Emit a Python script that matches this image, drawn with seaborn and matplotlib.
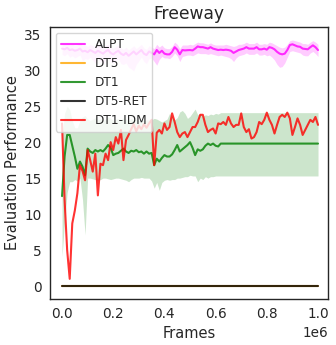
import numpy as np
import pandas as pd
import matplotlib
matplotlib.use("Agg")
import matplotlib.pyplot as plt
import seaborn as sns

# ---------------- data ----------------
frames = [i * 10000 for i in range(101)]

alpt = [33.0, 32.9, 33.1, 32.8, 32.9, 32.7, 32.8, 33.0, 32.6, 32.7,
        32.5, 32.8, 32.6, 32.4, 32.7, 32.5, 32.3, 32.6, 32.8, 32.4,
        32.2, 32.5, 32.7, 32.3, 32.1, 32.4, 32.0, 32.3, 32.6, 32.2,
        32.5, 32.8, 32.3, 32.1, 32.6, 32.4, 32.2, 32.8, 32.4, 32.7,
        32.3, 32.2, 32.2, 32.55, 33.2, 32.85, 32.2, 32.8, 32.75, 32.78,
        32.8, 32.75, 33.0, 33.3, 33.2, 33.2, 33.1, 33.0, 33.2, 33.0,
        32.9, 32.8, 32.85, 32.8, 32.85, 32.8, 32.7, 32.4, 32.6, 32.8,
        32.9, 33.0, 33.2, 33.0, 33.0, 33.0, 33.2, 32.9, 32.9, 33.0,
        32.85, 33.2, 33.1, 32.9, 32.55, 32.3, 32.2, 32.3, 32.8, 33.5,
        33.6, 33.45, 33.3, 33.25, 33.0, 32.95, 32.9, 33.2, 33.45, 33.2,
        32.8]
alpt_low = [32.2, 32.0, 32.3, 31.8, 32.0, 31.7, 31.9, 32.1, 31.3, 31.6,
            31.5, 31.8, 31.4, 31.0, 31.7, 31.3, 30.8, 31.5, 31.8, 31.2,
            31.0, 31.4, 31.6, 30.9, 30.8, 31.0, 30.4, 30.2, 29.9, 30.8,
            31.3, 31.8, 31.2, 30.9, 31.6, 31.7, 31.2, 30.7, 31.5, 31.9,
            31.7, 31.7, 31.6, 31.9, 32.4, 32.0, 31.2, 31.9, 32.0, 32.1,
            32.1, 32.0, 32.2, 32.4, 32.3, 32.3, 32.3, 32.2, 32.3, 32.2,
            32.1, 32.0, 32.1, 32.0, 31.9, 31.8, 31.6, 31.2, 31.7, 32.0,
            32.1, 32.2, 32.4, 32.2, 32.2, 32.2, 32.4, 32.1, 32.1, 32.2,
            32.0, 32.1, 31.8, 31.4, 30.8, 30.4, 30.5, 31.0, 31.8, 32.6,
            32.7, 32.6, 32.5, 32.4, 32.1, 32.0, 32.0, 32.4, 32.6, 32.3,
            31.9]
alpt_high = [33.7, 33.6, 33.8, 33.5, 33.6, 33.4, 33.5, 33.8, 33.4, 33.5,
             33.3, 33.6, 33.4, 33.2, 33.5, 33.3, 33.1, 33.4, 33.6, 33.2,
             33.0, 33.3, 33.5, 33.1, 32.9, 33.2, 32.8, 33.1, 33.4, 33.0,
             33.3, 33.6, 33.1, 32.9, 33.4, 33.2, 33.0, 33.6, 33.2, 33.5,
             33.1, 33.0, 33.0, 33.3, 33.9, 33.6, 33.0, 33.5, 33.5, 33.5,
             33.6, 33.5, 33.7, 33.9, 33.8, 33.8, 33.7, 33.6, 33.8, 33.6,
             33.5, 33.5, 33.5, 33.5, 33.6, 33.5, 33.4, 33.3, 33.4, 33.6,
             33.6, 33.7, 33.9, 33.7, 33.7, 33.7, 33.9, 33.6, 33.6, 33.7,
             33.6, 33.9, 33.8, 33.6, 33.4, 33.2, 33.1, 33.2, 33.6, 34.1,
             34.2, 34.1, 34.0, 33.9, 33.7, 33.7, 33.6, 33.9, 34.1, 33.9,
             33.6]

dt5 = [0.0] * 101
dt5_ret = [0.0] * 101

dt1 = [12.5, 18.0, 21.0, 21.0, 19.5, 18.0, 16.3, 17.3, 16.6, 15.4,
       19.1, 18.7, 18.5, 18.9, 18.7, 18.9, 18.7, 19.1, 19.6, 19.2,
       18.2, 18.4, 18.5, 18.8, 19.1, 18.7, 18.5, 18.8, 18.7, 18.9,
       18.6, 18.7, 18.4, 18.7, 18.4, 18.5, 16.8, 17.7, 17.3, 17.8,
       18.2, 18.0, 18.0, 18.3, 18.9, 19.6, 18.7, 19.0, 19.3, 19.6,
       20.0, 19.2, 18.2, 19.0, 18.8, 19.0, 19.5, 19.8, 19.6, 19.8,
       19.5, 19.4, 19.8] + [19.8] * 38
dt1_low = [4.1, 9.0, 13.0, 14.5, 14.5, 14.8, 14.6, 15.0, 12.0, 7.1,
           15.0, 15.0, 14.9, 14.8, 14.7, 14.8, 15.0, 15.0, 14.9, 14.8,
           14.9, 15.0, 15.0, 14.9, 14.8, 14.7, 14.5, 14.8, 15.0, 15.0,
           15.0, 15.1, 15.0, 15.0, 15.0, 14.6, 13.6, 14.4, 13.3, 14.4,
           14.7, 14.8, 14.7, 14.8, 14.8, 15.0, 15.0, 15.1, 15.2, 15.2,
           15.4, 15.3, 15.3, 14.5, 15.0, 14.8, 15.2, 15.0, 15.2, 15.2,
           15.3, 15.3, 15.3] + [15.3] * 38
dt1_high = [20.9, 24.0, 25.0, 24.5, 23.0, 22.0, 22.0, 23.0, 23.5, 23.7,
            23.2, 23.0, 23.2, 23.4, 23.1, 23.3, 23.0, 23.2, 23.5, 23.3,
            23.0, 23.2, 23.3, 23.1, 23.4, 23.2, 23.0, 23.3, 23.1, 23.2,
            23.0, 23.2, 23.0, 23.1, 23.1, 23.1, 23.3, 23.2, 23.0, 22.8,
            23.0, 23.2, 24.0, 23.6, 23.1, 23.4, 24.2, 24.4, 24.0, 23.3,
            23.6, 24.1, 24.6, 23.8, 24.0, 23.6, 23.8, 23.7, 23.9, 23.8,
            24.0, 23.9, 24.1] + [24.1] * 38

dt1_idm = [22.6, 12.0, 5.0, 1.0, 8.7, 10.5, 12.9, 16.8, 16.0, 14.7,
           18.9, 17.5, 15.9, 18.4, 12.6, 17.0, 16.8, 18.4, 17.5, 20.0,
           18.9, 20.7, 19.8, 21.7, 17.5, 20.3, 21.0, 21.8, 22.5, 21.5,
           22.3, 21.8, 22.5, 22.0, 22.6, 23.1, 16.8, 21.3, 21.7, 21.2,
           22.6, 21.7, 22.1, 24.0, 22.8, 21.4, 20.7, 21.2, 21.4, 20.7,
           21.4, 22.1, 22.1, 22.8, 23.8, 23.8, 22.4, 21.4, 21.7, 21.9,
           21.2, 22.6, 22.5, 22.8, 22.4, 23.5, 22.6, 22.1, 22.4, 22.4,
           24.0, 22.1, 21.4, 21.8, 20.5, 20.7, 21.4, 22.8, 22.5, 23.1,
           24.1, 23.1, 22.4, 21.2, 22.4, 23.5, 23.8, 23.5, 24.1, 23.3,
           21.0, 22.1, 23.3, 22.4, 21.0, 21.7, 22.4, 23.1, 22.8, 23.5,
           22.4]

series_names = ["ALPT", "DT5", "DT1", "DT5-RET", "DT1-IDM"]
series_colors = ["#ff00ff", "orange", "green", "black", "red"]

# ---------------- plot ----------------
sns.set_style("white")
plt.rcParams["font.family"] = ["DejaVu Sans"]

fig = plt.figure(figsize=(3.36, 3.45), dpi=100)
ax = fig.add_axes([0.1488, 0.1333, 0.8274, 0.7884])

values = [alpt, dt5, dt1, dt5_ret, dt1_idm]
bands = {"ALPT": (alpt_low, alpt_high), "DT1": (dt1_low, dt1_high)}

for name, col, vals in zip(series_names, series_colors, values):
    df = pd.DataFrame({"Frames": frames, "value": vals})
    sns.lineplot(data=df, x="Frames", y="value", ax=ax, color=col,
                 alpha=0.8, linewidth=1.5, label=name)
    if name in bands:
        lo, hi = bands[name]
        ax.fill_between(frames, lo, hi, color=col, alpha=0.2, linewidth=0)

ax.set_xlim(-47000, 1039000)
ax.set_ylim(-1.8, 36.0)
ax.set_xticks([0, 200000, 400000, 600000, 800000, 1000000])
ax.set_yticks([0, 5, 10, 15, 20, 25, 30, 35])
ax.tick_params(labelsize=9.8, colors=".15", length=0, pad=6)
ax.xaxis.get_offset_text().set_fontsize(9.8)
ax.set_xlabel("Frames", fontsize=10.5, color=".15", labelpad=3)
ax.set_ylabel("Evaluation Performance", fontsize=10.5, color=".15", labelpad=3)
ax.set_title("Freeway", fontsize=12.3, color=".15")
for s in ax.spines.values():
    s.set_color(".15")
    s.set_linewidth(1.0)

leg = ax.legend(loc="upper left", fontsize=8.7, framealpha=0.8)

fig.savefig("out.png", dpi=100)
